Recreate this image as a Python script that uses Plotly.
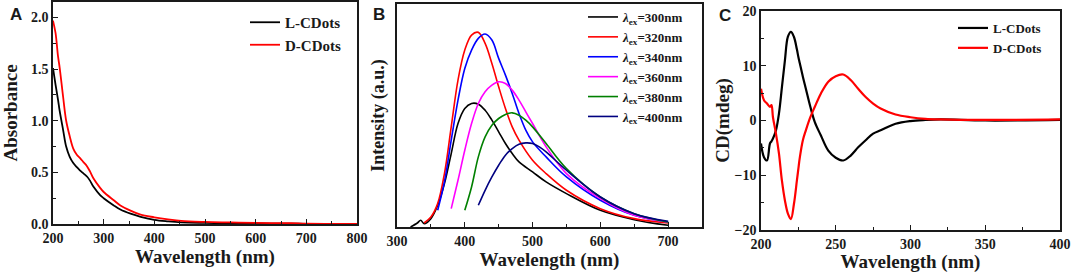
import plotly.graph_objects as go
from plotly.subplots import make_subplots

# ---- Panel A: absorbance ----
abs_wl = [200, 205, 210, 213, 220, 226, 233, 240, 247, 253, 260, 267, 273, 280, 293, 300, 320, 333, 353, 373, 400, 427, 453, 500, 550, 600, 670, 700, 800]
abs_L = [1.51, 1.35, 1.2, 1.1, 0.91, 0.75, 0.65, 0.59, 0.55, 0.52, 0.49, 0.46, 0.42, 0.36, 0.28, 0.25, 0.18, 0.14, 0.1, 0.07, 0.04, 0.025, 0.015, 0.01, 0.007, 0.005, 0.003, 0.002, 0.0]
abs_D = [1.97, 1.85, 1.62, 1.52, 1.23, 1.0, 0.85, 0.73, 0.67, 0.64, 0.6, 0.56, 0.51, 0.44, 0.35, 0.31, 0.23, 0.18, 0.13, 0.09, 0.065, 0.045, 0.03, 0.02, 0.015, 0.01, 0.008, 0.004, 0.002]

# ---- Panel B: photoluminescence (a.u.) ----
pl_wl_300 = [320, 330, 335, 340, 350, 360, 370, 380, 390, 400, 410, 420, 430, 440, 450, 460, 470, 480, 500, 520, 550, 600, 650, 700]
pl_300 = [0, 12, 20, 10, 25, 65, 130, 220, 310, 355, 370, 368, 350, 320, 285, 250, 220, 195, 165, 135, 100, 50, 22, 5]
pl_wl_320 = [340, 350, 360, 370, 380, 390, 400, 410, 420, 430, 440, 450, 460, 470, 480, 500, 520, 550, 600, 650, 700]
pl_320 = [12, 30, 70, 160, 300, 440, 530, 575, 583, 550, 490, 420, 355, 300, 260, 200, 160, 110, 55, 25, 12]
pl_wl_340 = [360, 370, 380, 390, 400, 410, 420, 430, 440, 450, 460, 470, 480, 490, 500, 520, 550, 600, 650, 700]
pl_340 = [50, 135, 260, 380, 475, 530, 565, 578, 560, 505, 455, 400, 340, 290, 255, 210, 150, 80, 35, 15]
pl_wl_360 = [380, 390, 400, 410, 420, 430, 440, 450, 460, 470, 480, 490, 500, 520, 550, 600, 650, 700]
pl_360 = [55, 140, 230, 310, 370, 405, 425, 435, 430, 410, 380, 345, 310, 240, 160, 85, 35, 15]
pl_wl_380 = [400, 410, 420, 430, 440, 450, 460, 470, 480, 490, 500, 520, 550, 600, 650, 700]
pl_380 = [50, 120, 210, 270, 305, 325, 337, 342, 335, 320, 300, 250, 175, 90, 40, 15]
pl_wl_400 = [420, 430, 440, 450, 460, 470, 480, 490, 500, 510, 520, 550, 600, 650, 700]
pl_400 = [65, 110, 150, 185, 215, 235, 248, 252, 250, 240, 225, 170, 90, 40, 17]
pl_labels = ["300", "320", "340", "360", "380", "400"]

# ---- Panel C: circular dichroism ----
cd_wl = [200, 202, 204, 206, 207, 208, 210, 212, 214, 216, 218, 220, 222, 224, 225, 226, 228, 230, 233, 236, 240, 245, 250, 255, 260, 265, 270, 275, 280, 290, 300, 310, 320, 350, 400]
cd_L = [-4.2, -6.7, -7.3, -4.2, -3.8, -3.3, -1.8, 1.25, 6.1, 11.0, 15.3, 16.2, 15.3, 13.0, 11.6, 10.4, 8.0, 5.8, 2.5, -0.3, -2.7, -5.5, -6.8, -7.3, -6.4, -4.9, -3.6, -2.4, -1.8, -0.6, -0.1, 0.1, 0.2, 0.0, 0.1]
cd_D = [5.8, 3.7, 3.1, 2.5, 2.8, 0.6, -2.4, -6.0, -11.0, -14.6, -17.0, -18.0, -15.3, -11.0, -8.8, -6.7, -3.6, -1.8, 0.6, 2.5, 4.9, 7.1, 8.1, 8.4, 7.4, 5.8, 4.3, 3.1, 2.2, 1.1, 0.6, 0.3, 0.2, 0.1, 0.2]

SERIF = "Liberation Serif, Times New Roman, serif"
SANS = "Liberation Sans, Arial, sans-serif"
AX = "#1a1a1a"

fig = make_subplots(rows=1, cols=3)

fig.add_trace(go.Scatter(x=abs_wl, y=abs_L, mode="lines", name="<b>L-CDots</b>", line=dict(color="black", width=1.8, shape="spline"), legend="legend"), 1, 1)
fig.add_trace(go.Scatter(x=abs_wl, y=abs_D, mode="lines", name="<b>D-CDots</b>", line=dict(color="#ff0000", width=1.8, shape="spline"), legend="legend"), 1, 1)

pl_x = [pl_wl_300, pl_wl_320, pl_wl_340, pl_wl_360, pl_wl_380, pl_wl_400]
pl_y = [pl_300, pl_320, pl_340, pl_360, pl_380, pl_400]
pl_colors = ["black", "#ff0000", "#0000ff", "#ff00ff", "#008000", "#000080"]
for xs, ys, lab, c in zip(pl_x, pl_y, pl_labels, pl_colors):
    fig.add_trace(go.Scatter(x=xs, y=ys, mode="lines", name=f"<b><i>λ</i><sub>ex</sub>={lab}nm</b>",
                             line=dict(color=c, width=1.6, shape="spline"), legend="legend2"), 1, 2)

fig.add_trace(go.Scatter(x=cd_wl, y=cd_L, mode="lines", name="<b>L-CDots</b>", line=dict(color="black", width=2.2, shape="spline"), legend="legend3"), 1, 3)
fig.add_trace(go.Scatter(x=cd_wl, y=cd_D, mode="lines", name="<b>D-CDots</b>", line=dict(color="#ff0000", width=2.2, shape="spline"), legend="legend3"), 1, 3)

W, H = 1071, 273
def px(v): return v / W
def py(v): return 1 - v / H

base = dict(showline=True, linecolor=AX, linewidth=1.6, mirror=True, automargin=False,
            showgrid=False, zeroline=False,
            tickfont=dict(family=SERIF, size=14, color=AX, weight="bold"),
            title_font=dict(family=SERIF, size=19, color=AX))
tk = dict(ticks="inside", ticklen=5, tickwidth=1.2, tickcolor=AX)

fig.update_layout(
    template="none",
    width=W, height=H, margin=dict(l=0, r=0, t=0, b=0, autoexpand=False),
    paper_bgcolor="white", plot_bgcolor="white",
    xaxis=dict(domain=[px(53), px(357)], range=[200, 800], dtick=100,
               minor=dict(ticks="inside", ticklen=3, dtick=50, tickcolor=AX),
               title=dict(text="<b>Wavelength (nm)</b>", standoff=0), **base, **tk),
    yaxis=dict(domain=[py(224), py(2)], range=[0, 2.15], dtick=0.5, tickformat=".1f",
               minor=dict(ticks="inside", ticklen=3, dtick=0.25, tickcolor=AX),
               title=dict(text="<b>Absorbance</b>", standoff=12), **base, **tk),
    xaxis2=dict(domain=[px(397), px(702)], range=[300, 750], dtick=100,
                minor=dict(ticks="inside", ticklen=3, dtick=50, tickcolor=AX),
                title=dict(text="<b>Wavelength (nm)</b>", standoff=0), **base, **tk),
    yaxis2=dict(domain=[py(227), py(4)], range=[0, 668], showticklabels=False, ticks="",
                title=dict(text="<b>Intensity (a.u.)</b>", standoff=6, font=dict(size=18)),
                **{k: v for k, v in base.items() if k != "title_font"},
                title_font_family=SERIF, title_font_color=AX),
    xaxis3=dict(domain=[px(761), px(1060)], range=[200, 400], dtick=50,
                minor=dict(ticks="inside", ticklen=3, dtick=25, tickcolor=AX),
                title=dict(text="<b>Wavelength (nm)</b>", standoff=0), **base, **tk),
    yaxis3=dict(domain=[py(230), py(11)], range=[-20, 20], dtick=10,
                minor=dict(ticks="inside", ticklen=3, dtick=5, tickcolor=AX),
                title=dict(text="<b>CD(mdeg)</b>", standoff=0), **base, **tk),
    legend=dict(x=px(245), y=py(6), xanchor="left", yanchor="top", bgcolor="rgba(0,0,0,0)",
                font=dict(family=SERIF, size=15, color=AX), tracegroupgap=0, itemwidth=30),
    legend2=dict(x=px(583), y=py(2), xanchor="left", yanchor="top", bgcolor="rgba(0,0,0,0)",
                 font=dict(family=SERIF, size=13, color=AX), tracegroupgap=0, itemwidth=30),
    legend3=dict(x=px(953), y=py(13), xanchor="left", yanchor="top", bgcolor="rgba(0,0,0,0)",
                 font=dict(family=SERIF, size=13, color=AX), tracegroupgap=0, itemwidth=30),
    showlegend=True,
)

for txt, x, y in [("A", 16, 14), ("B", 379, 14), ("C", 725, 15)]:
    fig.add_annotation(text=f"<b>{txt}</b>", x=px(x), y=py(y), xref="paper", yref="paper",
                       showarrow=False, xanchor="center", yanchor="middle",
                       font=dict(family=SANS, size=17, color=AX))

fig.write_html("out.html", config={"displayModeBar": False},
               post_script="document.body.style.margin='0px';document.body.style.overflow='hidden';")
